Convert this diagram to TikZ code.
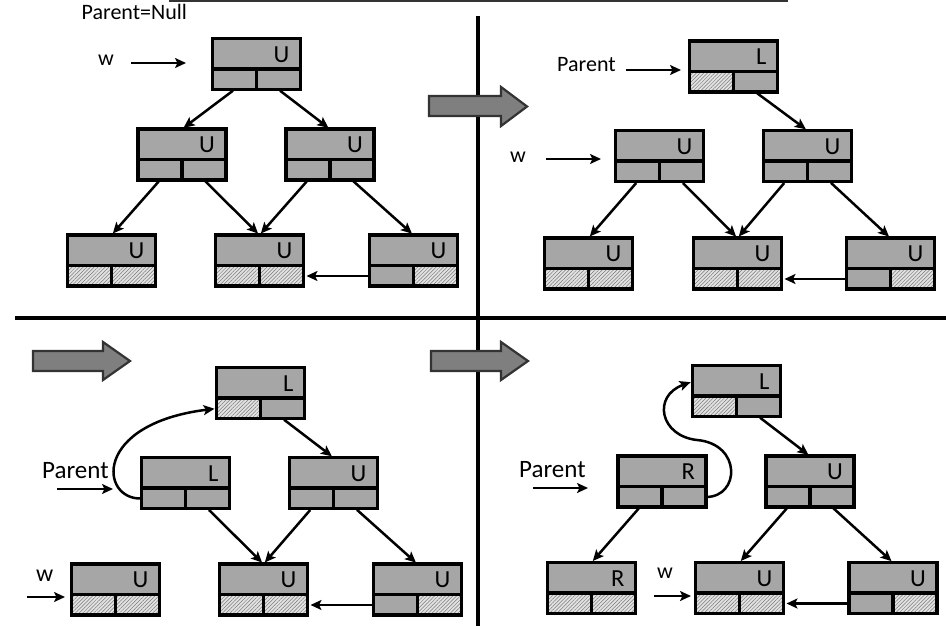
\documentclass[tikz,border=0pt]{standalone}
\usepackage{fontspec}
\setmainfont{Carlito}
\usetikzlibrary{arrows.meta,patterns.meta}

\definecolor{cellgray}{HTML}{A6A6A6}
\definecolor{hatchbg}{HTML}{E2E2E2}
\definecolor{hatchline}{HTML}{7A7A7A}
\definecolor{stepfill}{HTML}{7F7F7F}
\definecolor{stepline}{HTML}{333333}

\tikzset{
  memcell/.style={rectangle, draw=black, line width=3.3pt, fill=cellgray,
    minimum width=88pt, minimum height=51pt, inner sep=0pt, outer sep=0pt},
  hatched/.style={fill=hatchbg,
    postaction={pattern={Lines[angle=45,distance=2.6pt,line width=0.5pt]}, pattern color=hatchline}},
  cellrule/.style={draw=black, line width=3.3pt},
  tag/.style={font=\fontsize{24.5}{28}\selectfont, inner sep=0pt, anchor=east},
  lbl/.style={font=\fontsize{22}{26}\selectfont, inner sep=0pt, anchor=base west},
  biglbl/.style={lbl, font=\fontsize{25}{30}\selectfont},
  link/.style={draw=black, line width=2.5pt, -{Stealth[length=11pt,width=10pt,inset=2.5pt]},
    shorten <=2pt, shorten >=2pt},
  pointer/.style={draw=black, line width=2.5pt, -{Stealth[length=11pt,width=10pt,inset=2.5pt]}},
  stepper/.style={fill=stepfill, draw=stepline, line width=2.2pt, line join=miter},
  divider/.style={draw=black, line width=3.5pt},
}

% one record: name, centre, state letter, style of left and right pointer cells
\newcommand{\mcell}[5]{%
  \node[memcell] (#1) at (#2) {};
  \path[#4] ([yshift=20.5pt]#1.south west) rectangle (#1.south);
  \path[#5] ([yshift=20.5pt]#1.south) rectangle (#1.south east);
  \draw[cellrule] (#1.south west) rectangle (#1.north east);
  \draw[cellrule] ([yshift=20.5pt]#1.south west) -- ([yshift=20.5pt]#1.south east);
  \draw[cellrule] ([yshift=20.5pt]#1.south) -- (#1.south);
  \node[tag] (#1-tag) at ([xshift=-11pt,yshift=-16pt]#1.north east) {#3};
}

\begin{document}
\begin{tikzpicture}[x=1pt,y=-1pt]
\useasboundingbox (0,0) rectangle (946,626);

% frame rules
\draw[draw=stepline, line width=2.4pt] (169,1) -- (788,1);
\draw[divider] (478,16) -- (478,626);
\draw[divider] (15,318) -- (946,318);

% step arrows
\path[stepper] (429,96) -- (501,96) -- (501,87) -- (527,106.5) -- (501,126) -- (501,116) -- (429,116) -- cycle;
\path[stepper] (33,351) -- (103,351) -- (103,342) -- (130,361) -- (103,380) -- (103,371) -- (33,371) -- cycle;
\path[stepper] (431,351) -- (501,351) -- (501,342) -- (528,361) -- (501,380) -- (501,371) -- (431,371) -- cycle;

% ---------- stage 1 ----------
\mcell{A1}{256.5,64}{U}{}{}
\mcell{A2}{182,154.5}{U}{}{}
\mcell{A3}{330,154.5}{U}{}{}
\mcell{A4}{111.5,260.5}{U}{hatched}{hatched}
\mcell{A5}{259.5,260.5}{U}{hatched}{hatched}
\mcell{A6}{413.5,260.5}{U}{}{hatched}
\draw[link] ([xshift=-22pt]A1.south) -- (A2.north);
\draw[link] ([xshift=22pt]A1.south) -- (A3.north);
\draw[link] ([xshift=-22pt]A2.south) -- (A4.north);
\draw[link] ([xshift=22pt]A2.south) -- (A5.north);
\draw[link] ([xshift=-22pt]A3.south) -- (A5.north);
\draw[link] ([xshift=22pt]A3.south) -- (A6.north);
\draw[link, shorten <=0pt, shorten >=3pt] ([yshift=10pt]A6.south west) -- ([yshift=10pt]A5.south east);
\node[lbl] (pnull) at (81.5,20) {Parent=Null};
\node[lbl] (wA) at (98,66) {w};
\coordinate (wA-from) at (131,63);
\coordinate (wA-to) at (186,63);
\draw[pointer] (wA-from) -- (wA-to);

% ---------- stage 2 ----------
\mcell{B1}{733.5,66.5}{L}{hatched}{}
\mcell{B2}{659.5,156}{U}{}{}
\mcell{B3}{807.5,156}{U}{}{}
\mcell{B4}{588.5,263.5}{U}{hatched}{hatched}
\mcell{B5}{737.5,263.5}{U}{hatched}{hatched}
\mcell{B6}{890.5,263.5}{U}{}{hatched}
\draw[link] ([xshift=22pt]B1.south) -- (B3.north);
\draw[link] ([xshift=-22pt]B2.south) -- (B4.north);
\draw[link] ([xshift=22pt]B2.south) -- (B5.north);
\draw[link] ([xshift=-22pt]B3.south) -- (B5.north);
\draw[link] ([xshift=22pt]B3.south) -- (B6.north);
\draw[link, shorten <=0pt, shorten >=3pt] ([yshift=10pt]B6.south west) -- ([yshift=10pt]B5.south east);
\node[lbl] (pB) at (557,72) {Parent};
\coordinate (pB-from) at (626,70);
\coordinate (pB-to) at (681,70);
\draw[pointer] (pB-from) -- (pB-to);
\node[lbl] (wB) at (510,162) {w};
\coordinate (wB-from) at (546,159);
\coordinate (wB-to) at (601,159);
\draw[pointer] (wB-from) -- (wB-to);

% ---------- stage 3 ----------
\mcell{C1}{260.5,393}{L}{hatched}{}
\mcell{C2}{185.5,483}{L}{}{}
\mcell{C3}{333.5,483}{U}{}{}
\mcell{C4}{115.5,589.5}{U}{hatched}{hatched}
\mcell{C5}{263.5,589.5}{U}{hatched}{hatched}
\mcell{C6}{417.5,589.5}{U}{}{hatched}
\draw[link] ([xshift=22pt]C1.south) -- (C3.north);
\draw[link] ([xshift=22pt]C2.south) -- (C5.north);
\draw[link] ([xshift=-22pt]C3.south) -- (C5.north);
\draw[link] ([xshift=22pt]C3.south) -- (C6.north);
\draw[link, shorten <=0pt, shorten >=3pt] ([yshift=10pt]C6.south west) -- ([yshift=10pt]C5.south east);
\draw[link, shorten <=0pt, shorten >=2pt] ([yshift=10pt]C2.south west)
  .. controls (100,500) and (92,424) .. ([yshift=10pt]C1.south west);
\node[biglbl] (pC) at (42,478) {Parent};
\coordinate (pC-from) at (57,489);
\coordinate (pC-to) at (113,489);
\draw[pointer] (pC-from) -- (pC-to);
\node[lbl, font=\fontsize{24}{28}\selectfont] (wC) at (36,581) {w};
\coordinate (wC-from) at (27,597);
\coordinate (wC-to) at (65,597);
\draw[pointer] (wC-from) -- (wC-to);

% ---------- stage 4 ----------
\mcell{D1}{736.5,391}{L}{hatched}{}
\mcell{D2}{662,481.5}{R}{}{}
\mcell{D3}{810,481.5}{U}{}{}
\mcell{D4}{591.5,588}{R}{hatched}{hatched}
\mcell{D5}{739.5,588}{U}{hatched}{hatched}
\mcell{D6}{893,588}{U}{}{hatched}
\draw[link] ([xshift=22pt]D1.south) -- (D3.north);
\draw[link] ([xshift=-22pt]D2.south) -- (D4.north);
\draw[link] ([xshift=-22pt]D3.south) -- (D5.north);
\draw[link] ([xshift=22pt]D3.south) -- (D6.north);
\draw[link, shorten <=0pt, shorten >=3pt] ([yshift=10pt]D6.south west) -- ([yshift=10pt]D5.south east);
\draw[link, shorten <=0pt, shorten >=2pt] ([yshift=10pt]D2.south east)
  .. controls (740,497) and (742,444) .. (697,440)
  .. controls (660,436) and (652,396) .. ([yshift=-16pt]D1.north west);
\node[biglbl] (pD) at (519,477) {Parent};
\coordinate (pD-from) at (533,488);
\coordinate (pD-to) at (588,488);
\draw[pointer] (pD-from) -- (pD-to);
\node[lbl] (wD) at (657,578) {w};
\coordinate (wD-from) at (654,596);
\coordinate (wD-to) at (691,596);
\draw[pointer] (wD-from) -- (wD-to);

\end{tikzpicture}
\end{document}
